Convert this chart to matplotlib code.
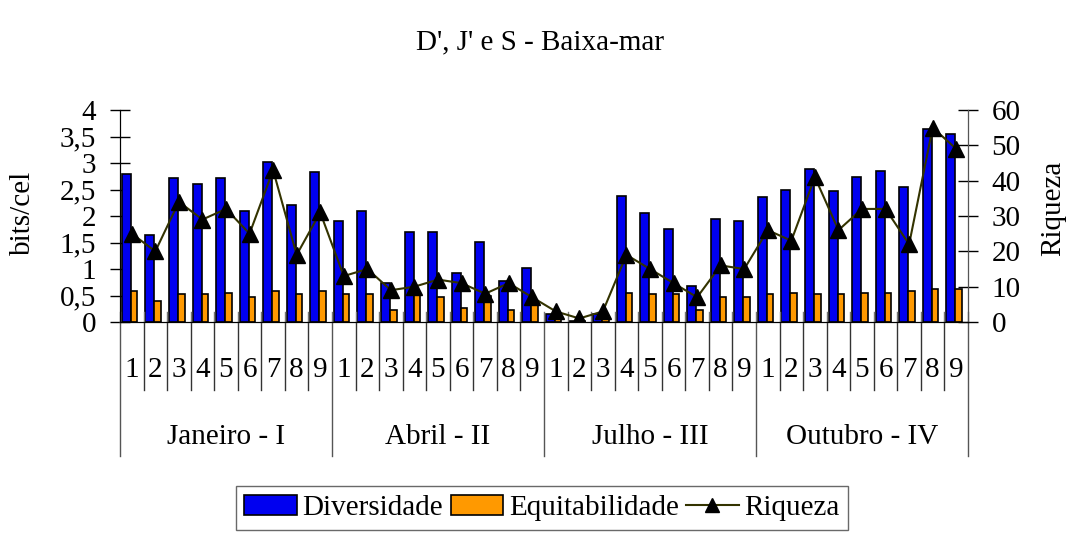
import numpy as np
import matplotlib
matplotlib.use("Agg")
import matplotlib.pyplot as plt
from matplotlib.ticker import FuncFormatter
from matplotlib.lines import Line2D
from matplotlib.patches import Patch

plt.rcParams['font.family'] = ['Liberation Serif', 'DejaVu Serif']

meses = ["Janeiro - I", "Abril - II", "Julho - III", "Outubro - IV"]
estacoes = ["1", "2", "3", "4", "5", "6", "7", "8", "9"]

diversidade = [2.79, 1.65, 2.72, 2.60, 2.72, 2.10, 3.01, 2.21, 2.83,
               1.91, 2.10, 0.74, 1.70, 1.70, 0.93, 1.51, 0.78, 1.02,
               0.16, 0.02, 0.16, 2.38, 2.06, 1.76, 0.67, 1.95, 1.91,
               2.35, 2.50, 2.88, 2.47, 2.73, 2.84, 2.54, 3.65, 3.54]
equitabilidade = [0.59, 0.40, 0.52, 0.52, 0.55, 0.48, 0.59, 0.52, 0.59,
                  0.52, 0.52, 0.23, 0.52, 0.48, 0.26, 0.50, 0.23, 0.35,
                  0.05, 0.01, 0.05, 0.55, 0.52, 0.52, 0.23, 0.48, 0.48,
                  0.52, 0.55, 0.52, 0.52, 0.55, 0.55, 0.59, 0.63, 0.63]
riqueza = [25, 20, 34, 29, 32, 25, 43, 19, 31,
           13, 15, 9, 10, 12, 11, 8, 11, 7,
           3, 1, 3, 19, 15, 11, 7, 16, 15,
           26, 23, 41, 26, 32, 32, 22, 55, 49]

n = len(diversidade)
x = np.arange(n) + 0.5
fs = 21

fig = plt.figure(figsize=(10.74, 5.34), dpi=100)
ax = fig.add_axes([120/1074, 1-322/534, 848/1074, 212/534])

ax.bar(x - 0.23, diversidade, width=0.38, color='#0000f0', edgecolor='black', linewidth=1.2, zorder=2)
ax.bar(x + 0.10, equitabilidade, width=0.28, color='#ff9900', edgecolor='black', linewidth=1.2, zorder=2)
ax.set_xlim(0, n)
ax.set_ylim(0, 4)
ax.set_yticks(np.arange(0, 4.01, 0.5))
fmt = FuncFormatter(lambda v, p: ('%g' % v).replace('.', ','))
ax.yaxis.set_major_formatter(fmt)
ax.tick_params(axis='y', direction='inout', length=14, width=1, labelsize=fs, pad=10)
ax.set_xticks([])
ax.spines['top'].set_visible(False)

ax2 = ax.twinx()
ax2.plot(x, riqueza, color='#333300', linewidth=1.5, marker='^', markersize=12,
         markerfacecolor='black', markeredgecolor='black', zorder=3)
ax2.set_ylim(0, 60)
ax2.set_yticks(np.arange(0, 61, 10))
ax2.tick_params(axis='y', direction='inout', length=14, width=1, labelsize=fs, pad=10)
ax2.spines['top'].set_visible(False)
ax2.spines['right'].set_color('#555555')

# eixo de categorias em dois niveis
tr = ax.get_xaxis_transform()
for i in range(n + 1):
    if i % 9 == 0:
        ax.plot([i, i], [0.0, -0.632], transform=tr, color='#555555', lw=1, clip_on=False)
    else:
        ax.plot([i, i], [0.0, -0.32], transform=tr, color='#333333', lw=1, clip_on=False)
    ax.plot([i, i], [0.0, 0.047], transform=tr, color='#777777', lw=1, clip_on=False)
for i in range(n):
    ax.text(x[i], -0.226, estacoes[i % 9], transform=tr, ha='center', va='center', fontsize=fs)
for g, nome in enumerate(meses):
    ax.text(g * 9 + 4.5, -0.542, nome, transform=tr, ha='center', va='center', fontsize=fs)

fig.text(540/1074, 1-42/534, "D', J' e S - Baixa-mar", ha='center', va='center', fontsize=fs)
fig.text(23/1074, 1-213/534, "bits/cel", rotation=90, ha='center', va='center', fontsize=fs)
fig.text(1053/1074, 1-208/534, "Riqueza", rotation=90, ha='center', va='center', fontsize=fs)

handles = [Patch(facecolor='#0000f0', edgecolor='black', linewidth=1.2),
           Patch(facecolor='#ff9900', edgecolor='black', linewidth=1.2),
           Line2D([], [], color='#333300', lw=1.5, marker='^', markersize=10,
                  markerfacecolor='black', markeredgecolor='black')]
leg = fig.legend(handles, ["Diversidade", "Equitabilidade", "Riqueza"],
                 loc='upper center', bbox_to_anchor=(542/1074, 1-486/534), ncol=3,
                 fontsize=fs, frameon=True, fancybox=False, handlelength=1.8,
                 handleheight=0.7, handletextpad=0.2, columnspacing=0.25,
                 borderpad=0.3, borderaxespad=0)
leg.get_frame().set_edgecolor('#444444')
leg.get_frame().set_linewidth(1)

fig.savefig("out.png", dpi=100)
